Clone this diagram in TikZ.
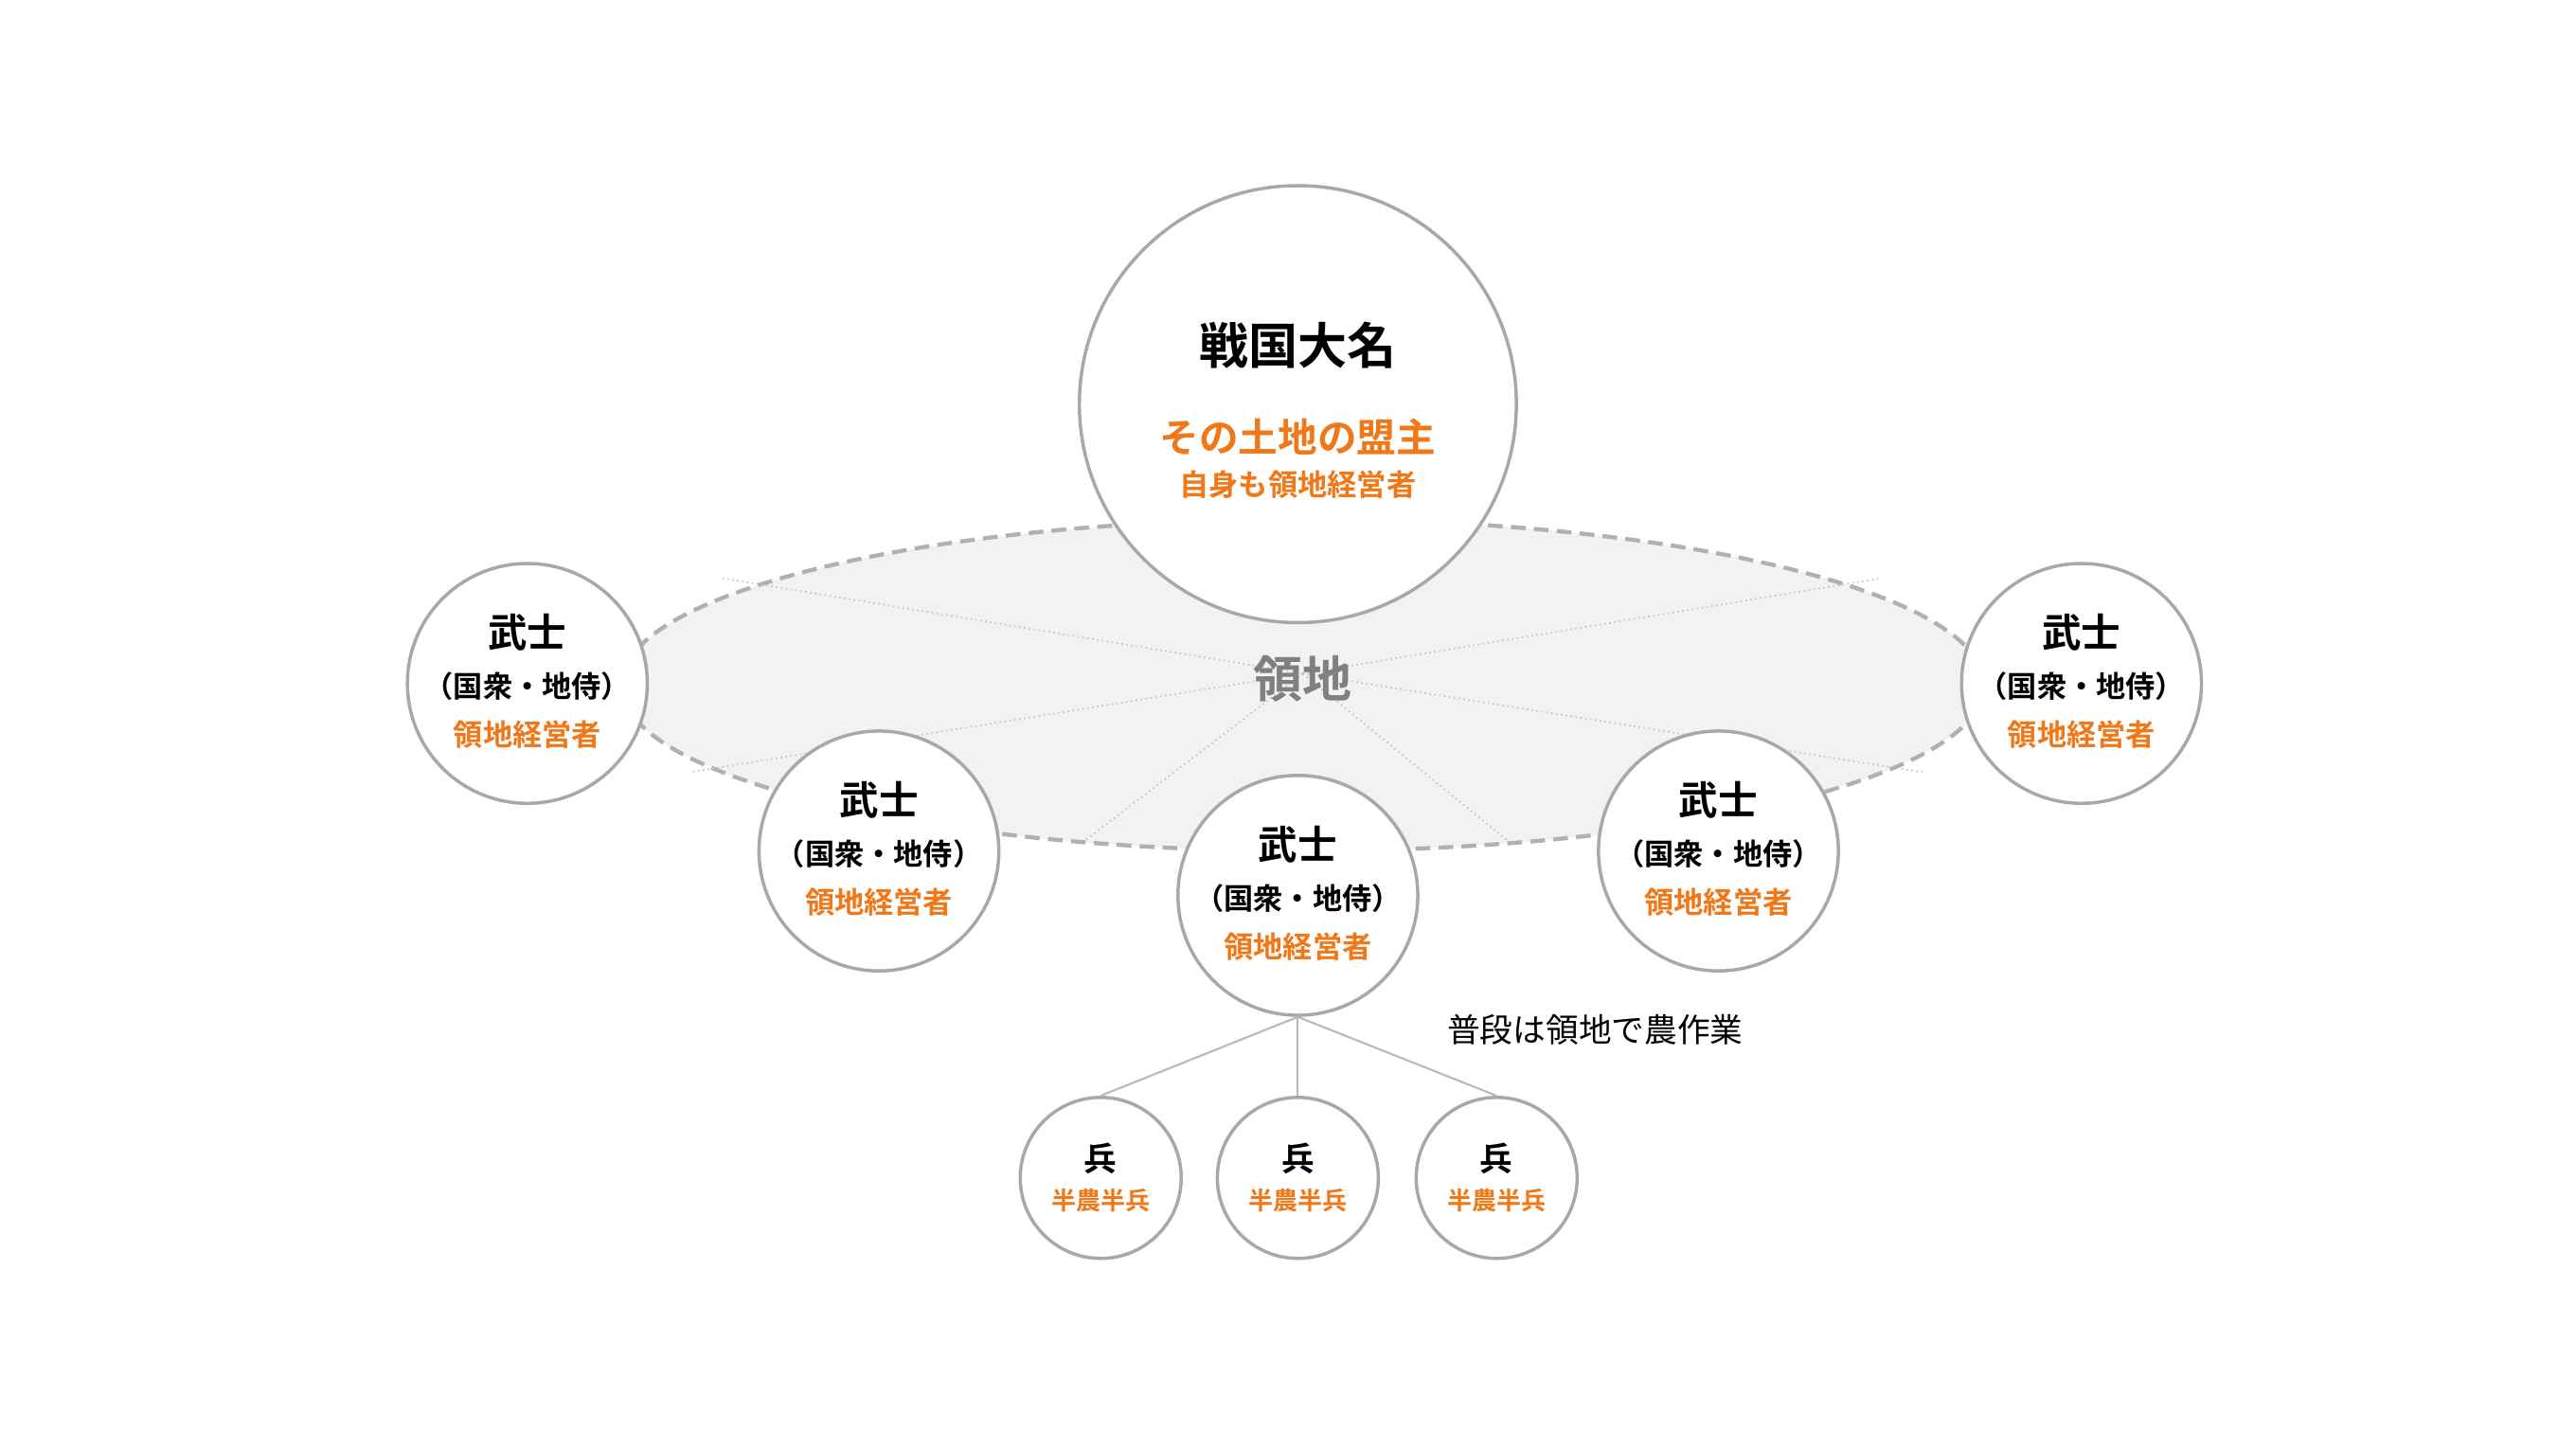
\documentclass[tikz,border=0pt]{standalone}
\usepackage{fontspec}
\usetikzlibrary{shapes.geometric}
\newfontfamily\cjk{Noto Sans CJK JP}
\newfontfamily\cjkb{Noto Sans CJK JP Bold}
\definecolor{og}{HTML}{F07818}
\definecolor{bd}{HTML}{A8A8A8}
\begin{document}
\begin{tikzpicture}[x=1pt,y=-1pt,
  circ/.style={circle,draw=bd,line width=2pt,fill=white,inner sep=0pt},
  t/.style={font=\cjkb\fontsize{#1}{#1}\selectfont,inner sep=0pt},
  o/.style={t=#1,text=og},
  dl/.style={draw=gray!45,line width=1pt,dotted},
  ln/.style={draw=bd!80,line width=1.2pt}]
\useasboundingbox (0,0) rectangle (1568,881);
\node[ellipse,draw=bd!90,dashed,dash pattern=on 9pt off 5pt,line width=2.5pt,fill=gray!10,minimum width=830pt,minimum height=202pt,inner sep=0pt] (field) at (793,417) {};
\coordinate (c) at (793,410);
\foreach \n/\p in {a/{440,352},b/{1145,352},d/{420,470},e/{1170,470},f/{660,512},g/{918,512}}
  {\coordinate (\n) at (\p); \draw[dl] (c) -- (\n);}
\node[t=30,text=gray] (lab) at (793,413) {領地};
\node[circ,minimum size=266pt] (daimyo) at (790,246) {};
\node[t=30] (dn) at (790,210) {戦国大名};
\node[o=24] (dn2) at (790,266) {その土地の盟主};
\node[o=18] (dn3) at (790,295) {自身も領地経営者};
\foreach \n/\x/\y in {s1/321/416,s2/535/518,s3/790/545,s4/1046/518,s5/1267/416}{
  \node[circ,minimum size=146pt] (\n) at (\x,\y) {};
  \node[t=24] (\n a) at (\x,\y-31) {武士};
  \node[t=18] (\n b) at (\x,\y+2) {（国衆・地侍）};
  \node[o=18] (\n c) at (\x,\y+31) {領地経営者};
}
\coordinate (top) at (790,619);
\foreach \n/\x in {h1/670,h2/790,h3/911}{
  \node[circ,minimum size=98pt] (\n) at (\x,717) {};
  \node[t=20] (\n a) at (\x,705) {兵};
  \node[o=15] (\n b) at (\x,731) {半農半兵};
  \draw[ln] (top) -- (\n.north);
}
\node[font=\cjk\fontsize{20}{20}\selectfont,inner sep=0pt] (note) at (971,627) {普段は領地で農作業};
\end{tikzpicture}
\end{document}
